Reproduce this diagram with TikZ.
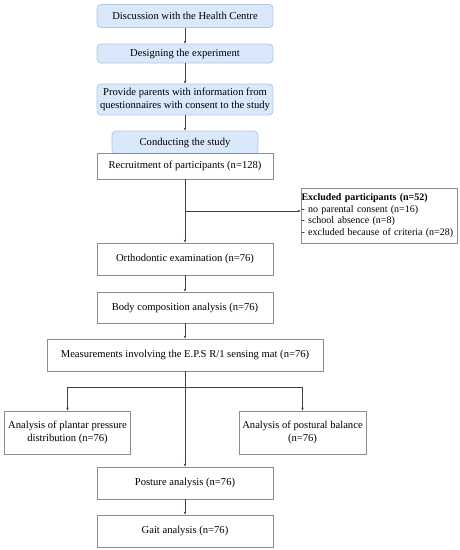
\documentclass[tikz,border=0pt]{standalone}
\usepackage{fontspec}
\setmainfont{Liberation Serif}
\usetikzlibrary{arrows.meta}
\definecolor{bluefill}{HTML}{DAE8FC}
\definecolor{bluedraw}{HTML}{AFC7E8}
\definecolor{boxgray}{HTML}{8C8C8C}
\tikzset{
  bluebox/.style={draw=bluedraw, fill=bluefill, rounded corners=4pt, line width=0.8pt, align=center, inner sep=1pt, font=\fontsize{10.6}{12.5}\selectfont},
  whitebox/.style={draw=boxgray, fill=white, line width=0.8pt, align=center, inner sep=1pt, font=\fontsize{10.6}{12.5}\selectfont},
  arr/.style={draw=black!75, line width=0.6pt, -{Stealth[length=3pt,width=2.5pt]}},
  ln/.style={draw=black!75, line width=0.6pt}
}
\begin{document}
\begin{tikzpicture}[x=1pt,y=-1pt]
\useasboundingbox (0,0) rectangle (460,550);
\node[bluebox, minimum width=176pt, minimum height=23pt] (b1) at (185,16) {Discussion with the Health Centre};
\node[bluebox, minimum width=176pt, minimum height=19pt] (b2) at (185,53.5) {Designing the experiment};
\node[bluebox, minimum width=176pt, minimum height=31pt] (b3) at (185,99.5) {Provide parents with information from\\questionnaires with consent to the study};
\node[bluebox, minimum width=146pt, minimum height=23pt] (b4) at (185,142.5) {Conducting the study};
\node[whitebox, minimum width=176pt, minimum height=26pt] (rec) at (185,166) {Recruitment of participants (n=128)};
\node[whitebox, minimum width=156pt, minimum height=55pt, text width=155pt, inner xsep=0.5pt, align=left, font=\fontsize{10}{11.8}\selectfont] (excl) at (379,215.5) {\mbox{\textbf{Excluded participants (n=52)}}\\\mbox{- no parental consent (n=16)}\\\mbox{- school absence (n=8)}\\\mbox{- excluded because of criteria (n=28)}};
\node[whitebox, minimum width=176pt, minimum height=32pt] (ortho) at (185,259) {Orthodontic examination (n=76)};
\node[whitebox, minimum width=176pt, minimum height=31pt] (body) at (185,307.5) {Body composition analysis (n=76)};
\node[whitebox, minimum width=276pt, minimum height=32pt] (meas) at (185,355) {Measurements involving the E.P.S R/1 sensing mat (n=76)};
\node[whitebox, minimum width=126pt, minimum height=43pt] (left) at (67.5,432.5) {Analysis of plantar pressure\\distribution (n=76)};
\node[whitebox, minimum width=127pt, minimum height=43pt] (right) at (302.5,432.5) {Analysis of postural balance\\(n=76)};
\node[whitebox, minimum width=176pt, minimum height=32pt] (post) at (185,483) {Posture analysis (n=76)};
\node[whitebox, minimum width=176pt, minimum height=32pt] (gait) at (185,531) {Gait analysis (n=76)};
\coordinate (br1) at (185,211);
\coordinate (br2) at (185,387);
\draw[arr] (b1) -- (b2);
\draw[arr] (b2) -- (b3);
\draw[arr] (b3) -- (b4);
\draw[arr] (rec) -- (ortho);
\draw[arr] (br1) -- (br1 -| excl.west);
\draw[arr] (ortho) -- (body);
\draw[arr] (body) -- (meas);
\draw[arr] (meas) -- (post);
\draw[ln] (br2 -| left) -- (br2 -| right);
\draw[arr] (br2 -| left) -- (left);
\draw[arr] (br2 -| right) -- (right);
\draw[arr] (post) -- (gait);
\end{tikzpicture}
\end{document}
